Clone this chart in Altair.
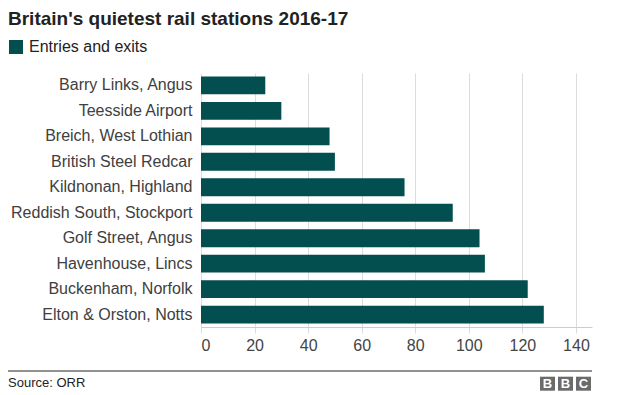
import altair as alt
import pandas as pd

stations = [
    "Barry Links, Angus",
    "Teesside Airport",
    "Breich, West Lothian",
    "British Steel Redcar",
    "Kildnonan, Highland",
    "Reddish South, Stockport",
    "Golf Street, Angus",
    "Havenhouse, Lincs",
    "Buckenham, Norfolk",
    "Elton & Orston, Notts",
]
entries_exits = [24, 30, 48, 50, 76, 94, 104, 106, 122, 128]
series_name = "Entries and exits"
x_ticks = [0, 20, 40, 60, 80, 100, 120, 140]

title_text = "Britain's quietest rail stations 2016-17"
source_text = "Source: ORR"
logo_letters = ["B", "B", "C"]

BAR = "#034e4f"
FONT = "Liberation Sans"

df = pd.DataFrame({"station": stations, "value": entries_exits, "series": series_name})

W, H = 391, 254
LEFT = -193

bars = alt.Chart(df).mark_bar(color=BAR).encode(
    y=alt.Y(
        "station:N",
        sort=stations,
        title=None,
        scale=alt.Scale(paddingInner=0.3, paddingOuter=0.135),
        axis=alt.Axis(
            ticks=False, domain=False, labelPadding=9, labelFontSize=16,
            labelFont=FONT, labelColor="#404040", grid=False, labelLimit=0,
        ),
    ),
    x=alt.X(
        "value:Q",
        title=None,
        scale=alt.Scale(domain=[0, 146], nice=False),
        axis=alt.Axis(
            values=x_ticks, grid=True, gridColor="#dcdcdc", domainColor="#cccccc",
            tickColor="#dcdcdc", tickSize=6, labelPadding=4, labelFontSize=16,
            labelFont=FONT, labelColor="#444444",
        ),
    ),
    color=alt.Color(
        "series:N",
        scale=alt.Scale(range=[BAR]),
        legend=alt.Legend(
            orient="none", legendX=LEFT, legendY=-34, title=None,
            symbolType="square", symbolSize=196, symbolStrokeWidth=0,
            symbolOpacity=1, labelFontSize=16, labelFont=FONT,
            labelColor="#222222", labelOffset=5, padding=0,
        ),
    ),
)

title = alt.Chart(pd.DataFrame({"t": [title_text]})).mark_text(
    align="left", baseline="alphabetic", fontSize=19, fontWeight="bold",
    font=FONT, color="#222222",
).encode(text="t:N", x=alt.value(LEFT), y=alt.value(-48.2))

rule = alt.Chart(pd.DataFrame({"r": [0]})).mark_rule(color="#222222", strokeWidth=1).encode(
    x=alt.value(LEFT), x2=alt.value(W), y=alt.value(298)
)

source = alt.Chart(pd.DataFrame({"t": [source_text]})).mark_text(
    align="left", baseline="alphabetic", fontSize=13, font=FONT, color="#222222",
).encode(text="t:N", x=alt.value(LEFT), y=alt.value(313.7))

logo_layers = []
for i, letter in enumerate(logo_letters):
    x0 = 339 + i * 18
    logo_layers.append(
        alt.Chart(pd.DataFrame({"l": [letter]})).mark_rect(color="#6b6b6b").encode(
            x=alt.value(x0), x2=alt.value(x0 + 15), y=alt.value(303.7), y2=alt.value(317.7)
        )
    )
    logo_layers.append(
        alt.Chart(pd.DataFrame({"l": [letter]})).mark_text(
            align="center", baseline="middle", fontSize=13, fontWeight="bold",
            font=FONT, color="white",
        ).encode(text="l:N", x=alt.value(x0 + 7.5), y=alt.value(311.2))
    )

chart = alt.layer(bars, title, rule, source, *logo_layers).properties(
    width=W, height=H,
    autosize=alt.AutoSizeParams(type="none"),
    padding={"left": 193, "top": 65, "right": 24, "bottom": 64},
).configure_view(stroke=None).configure_axis(labelFont=FONT)

chart.save("out.html", embed_options={"renderer": "svg", "actions": False})
